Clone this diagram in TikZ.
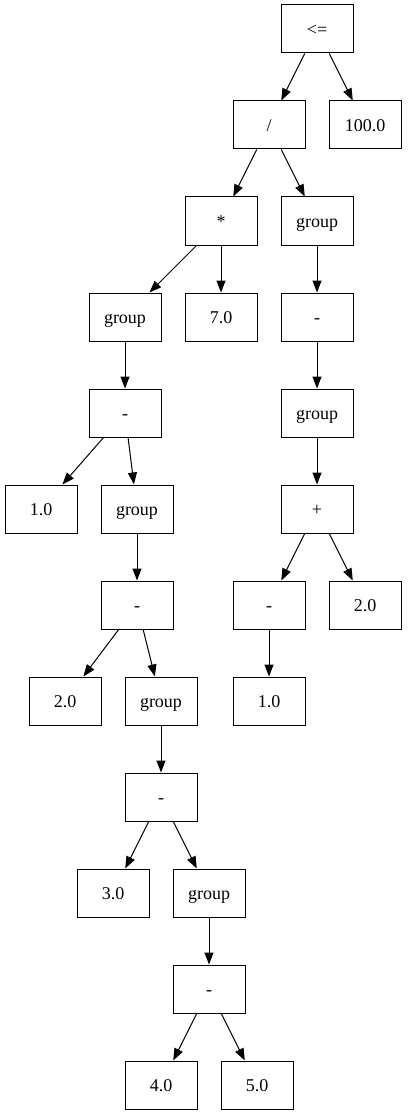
\documentclass[tikz,border=0pt]{standalone}
\usepackage{fontspec}
\setmainfont{Liberation Serif}
\usetikzlibrary{arrows.meta}
\begin{document}
\begin{tikzpicture}[x=1pt,y=-1pt,
  box/.style={draw,line width=1pt,minimum width=72pt,minimum height=48pt,inner sep=0pt,text height=13pt,text depth=0pt,font=\fontsize{18}{22}\selectfont},
  edge/.style={line width=1pt,-{Triangle[length=12pt,width=9pt]}}]
\useasboundingbox (0,0) rectangle (407,1115);
\node[box] (lt) at (317,29) {<=};
\node[box] (div) at (269,125) {/};
\node[box] (c100) at (365,125) {100.0};
\node[box] (mul) at (221,221) {*};
\node[box] (g1) at (317,221) {group};
\node[box] (g2) at (125,317) {group};
\node[box] (n7) at (221,317) {7.0};
\node[box] (m1) at (317,317) {-};
\node[box] (m2) at (125,413) {-};
\node[box] (g3) at (317,413) {group};
\node[box] (n1a) at (41,509) {1.0};
\node[box] (g4) at (137,509) {group};
\node[box] (plus) at (317,509) {+};
\node[box] (m3) at (137,605) {-};
\node[box] (m4) at (269,605) {-};
\node[box] (n2a) at (365,605) {2.0};
\node[box] (n2b) at (65,701) {2.0};
\node[box] (g5) at (161,701) {group};
\node[box] (n1b) at (269,701) {1.0};
\node[box] (m5) at (161,797) {-};
\node[box] (n3) at (113,893) {3.0};
\node[box] (g6) at (209,893) {group};
\node[box] (m6) at (209,989) {-};
\node[box] (n4) at (161,1085) {4.0};
\node[box] (n5) at (257,1085) {5.0};
\foreach \a/\b in {lt/div,lt/c100,div/mul,div/g1,mul/g2,mul/n7,g1/m1,g2/m2,m1/g3,m2/n1a,m2/g4,g3/plus,g4/m3,plus/m4,plus/n2a,m3/n2b,m3/g5,m4/n1b,g5/m5,m5/n3,m5/g6,g6/m6,m6/n4,m6/n5}
  \draw[edge] (\a) -- (\b);
\end{tikzpicture}
\end{document}
